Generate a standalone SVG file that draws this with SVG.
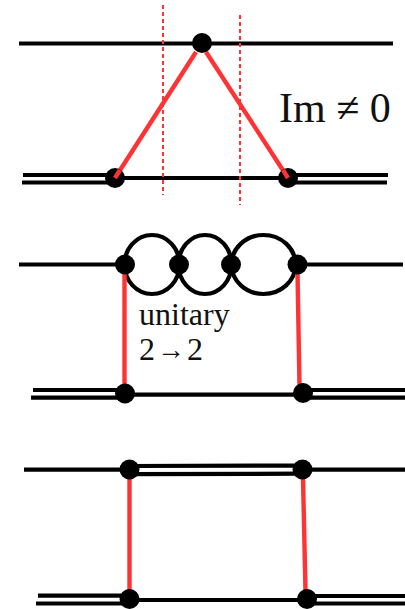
<svg xmlns="http://www.w3.org/2000/svg" width="405" height="609" viewBox="0 0 405 609">
<style>
.k{fill:none;stroke:#000;stroke-width:4.2}
.r{fill:none;stroke:#ff3333;stroke-width:4.4}
.d{fill:none;stroke:#ff3333;stroke-width:2;stroke-dasharray:4 3}
.n{fill:#000}
text{font-family:"Liberation Serif","Times New Roman",serif;fill:#111}
</style>
<rect width="405" height="609" fill="#fff"/>
<g id="connectors">
<path class="k" d="M19 43.500H393M23 175H110M22 182.500H110M115 178H288M293 175H388M293 182.500H387"/>
<path class="d" d="M163 5V195M240 15V205"/>
<path class="r" d="M196 52L115 178M206 52L288 178"/>
<path class="k" d="M19 264.500H125M297 264.500H403M33 390H125M31 397.700H125M125 394.700H303M303 390H405M303 397.700H405"/>
<ellipse class="k" cx="152" cy="264.500" rx="27.500" ry="29.500"/>
<ellipse class="k" cx="205" cy="264.500" rx="26.500" ry="29.500"/>
<ellipse class="k" cx="263.500" cy="264.500" rx="32" ry="29.500"/>
<path class="r" d="M124.500 272V386M297.500 272L299.500 386"/>
<path class="k" d="M24 469.700H129M302 469.700H405M129 466L302 465.500M129 474.200L302 473.700M38 595.700H129M36 603.500H129M129 600H307M307 596H405M307 603.500H405"/>
<path class="r" d="M129.500 478V591M303 478L305.500 591"/>
</g>
<g id="n1"><circle class="n" cx="202" cy="43" r="10"/></g>
<g id="n2"><circle class="n" cx="115" cy="178" r="10"/></g>
<g id="n3"><circle class="n" cx="288" cy="178" r="10"/></g>
<path class="r" d="M115 178L120 170M288 178L283 170"/>
<g id="n4"><circle class="n" cx="125" cy="264.500" r="10"/></g>
<g id="n5"><circle class="n" cx="179" cy="264.500" r="10"/></g>
<g id="n6"><circle class="n" cx="231" cy="264.500" r="10"/></g>
<g id="n7"><circle class="n" cx="297.500" cy="264.500" r="10"/></g>
<g id="n8"><circle class="n" cx="125" cy="393.500" r="10"/></g>
<g id="n9"><circle class="n" cx="303" cy="393" r="10"/></g>
<g id="n10"><circle class="n" cx="129.500" cy="469.500" r="10"/></g>
<g id="n11"><circle class="n" cx="302.500" cy="469.500" r="10"/></g>
<g id="n12"><circle class="n" cx="129.500" cy="599" r="10"/></g>
<g id="n13"><circle class="n" cx="307" cy="599" r="10"/></g>
<text x="279" y="122" font-size="42">Im ≠ 0</text>
<text x="139" y="325" font-size="32">unitary</text>
<text x="139" y="360" font-size="32">2<tspan font-size="28" dy="-1" dx="2">→</tspan><tspan dy="1" dx="2">2</tspan></text>
</svg>
